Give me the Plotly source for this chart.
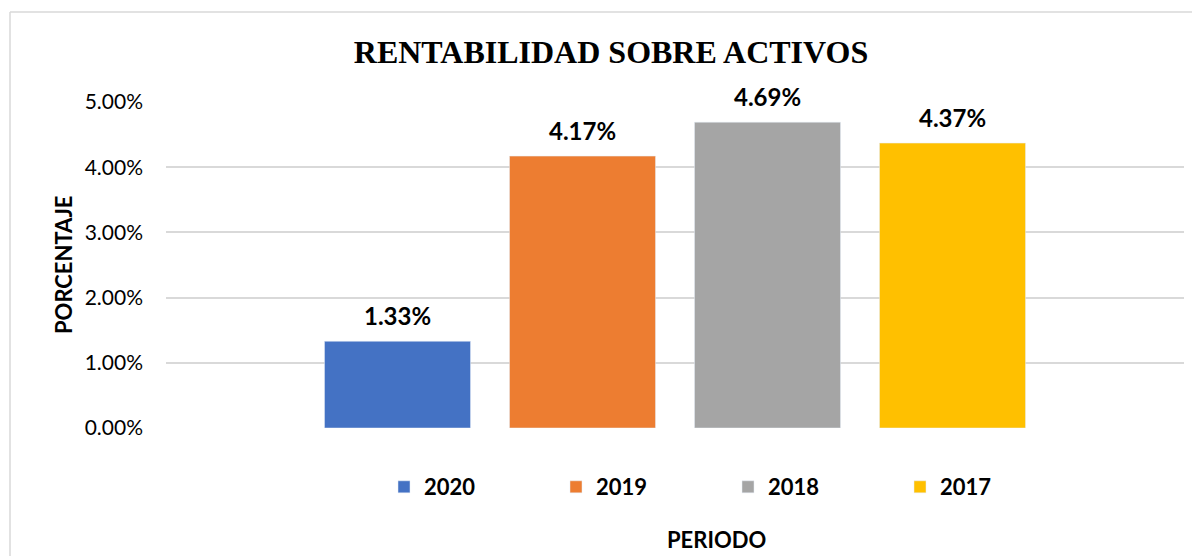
import plotly.graph_objects as go

years = ["2020", "2019", "2018", "2017"]
values = [0.0133, 0.0417, 0.0469, 0.0437]
colors = ["#4472C4", "#ED7D31", "#A5A5A5", "#FFC000"]
y_ticks = [0, 0.01, 0.02, 0.03, 0.04, 0.05]

# page body has an 8px margin; work in screen pixels and subtract it
O = 8
W, H = 1200 - O, 556 - O
PX0, PX1, PY0, PY1 = 166, 1184, 102, 428  # plot area in screen px
L, R, T, B = PX0 - O, W - (PX1 - O), PY0 - O, H - (PY1 - O)
pw = PX1 - PX0
ph = PY1 - PY0

def px_x(px):
    return (px - PX0) / pw

def px_y(py):
    return 1 - (py - PY0) / ph

slot = 185.0
bar_w = 146.0 / slot
center_units = (675 - PX0) / slot
x_range = [1.5 - center_units, 1.5 - center_units + pw / slot]

fig = go.Figure()
for yr, v, c in zip(years, values, colors):
    fig.add_trace(go.Bar(x=[yr], y=[v], name=yr, marker_color=c, width=bar_w))

annotations = [
    dict(x=i, y=v, xref="x", yref="y", text="<b>%.2f%%</b>" % (v * 100),
         showarrow=False, yanchor="middle", yshift=26,
         font=dict(family="Lato", size=24, color="#000000"))
    for i, v in enumerate(values)
]
annotations.append(dict(text="<b>PERIODO</b>", xref="paper", yref="paper",
                        x=px_x(716), y=px_y(539), xanchor="center", yanchor="middle",
                        showarrow=False,
                        font=dict(family="Lato", size=22, color="#000000")))
annotations.append(dict(text="<b>PORCENTAJE</b>", xref="paper", yref="paper",
                        x=px_x(63), y=px_y(265), xanchor="center", yanchor="middle",
                        textangle=-90, showarrow=False,
                        font=dict(family="Lato", size=22, color="#000000")))

fig.update_layout(
    width=W, height=H,
    margin=dict(l=L, r=R, t=T, b=B, pad=0),
    paper_bgcolor="white", plot_bgcolor="white",
    barmode="overlay",
    title=dict(text="<b>RENTABILIDAD SOBRE ACTIVOS</b>", x=(611 - O) / W, xref="container",
               xanchor="center", y=1 - (52 - O) / H, yref="container", yanchor="middle",
               font=dict(family="Liberation Serif", size=32, color="#000000")),
    font=dict(family="Lato", color="#000000"),
    showlegend=True,
    legend=dict(orientation="h", xref="container", yref="container",
                x=(384 - O) / W, xanchor="left", y=1 - (487 - O) / H, yanchor="middle",
                entrywidth=127, entrywidthmode="pixels",
                font=dict(family="Lato", size=22, color="#000000", weight="bold"),
                traceorder="normal"),
    xaxis=dict(type="category", range=x_range, showticklabels=False, showgrid=False,
               zeroline=False, showline=False, ticks=""),
    yaxis=dict(range=[0, 0.05], tickvals=y_ticks, tickformat=".2%",
               showgrid=True, gridcolor="#D9D9D9", gridwidth=1.5,
               zeroline=False, showline=False, ticks="",
               ticklabelstandoff=22,
               tickfont=dict(family="Lato", size=21, color="#000000")),
    annotations=annotations,
    shapes=[
        dict(type="line", xref="paper", yref="paper", x0=px_x(10), x1=px_x(1215),
             y0=px_y(12), y1=px_y(12), line=dict(color="#D9D9D9", width=1.5)),
        dict(type="line", xref="paper", yref="paper", x0=px_x(10), x1=px_x(10),
             y0=px_y(12), y1=px_y(575), line=dict(color="#D9D9D9", width=1.5)),
    ],
)

fig.write_html("out.html")
